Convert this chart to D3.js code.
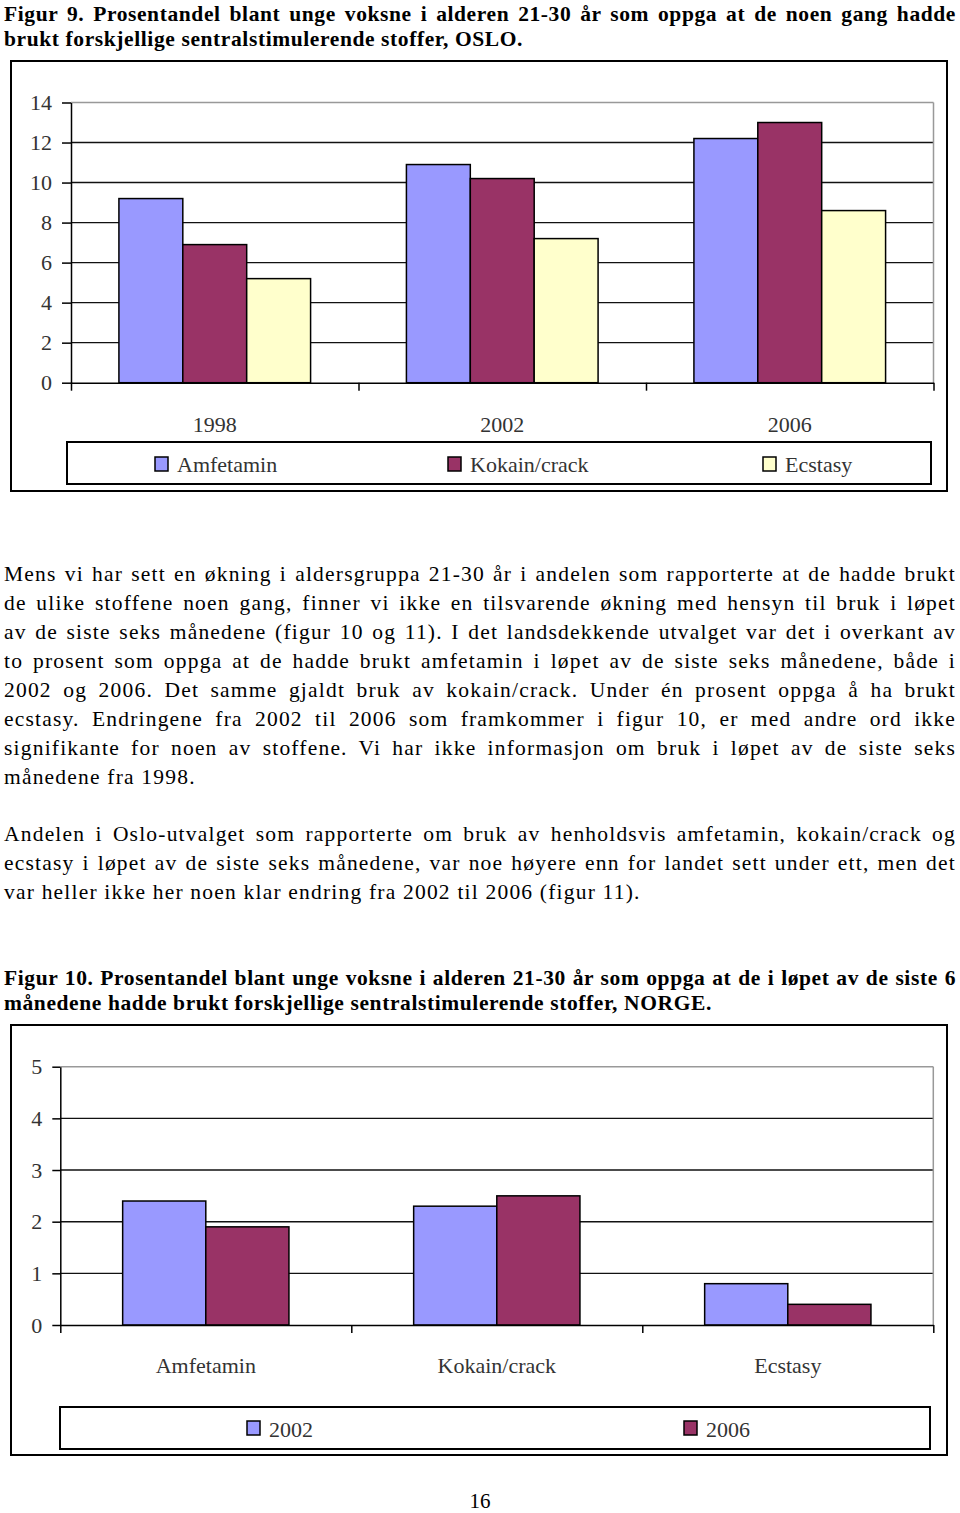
<!DOCTYPE html>
<html><head><meta charset="utf-8">
<script src="https://cdn.jsdelivr.net/npm/d3@7"></script>
<style>body{margin:0;background:#fff} svg{display:block}</style>
</head><body>
<svg id="page" width="960" height="1513"></svg>
<script>
// ---------- DATA ----------
// Figur 9 (OSLO)
const years1 = ["1998", "2002", "2006"];
const series1 = ["Amfetamin", "Kokain/crack", "Ecstasy"];
const amfetamin1 = [9.2, 10.9, 12.2];
const kokain1 = [6.9, 10.2, 13.0];
const ecstasy1 = [5.2, 7.2, 8.6];
const yTicks1 = [0, 2, 4, 6, 8, 10, 12, 14];

// Figur 10 (NORGE)
const drugs2 = ["Amfetamin", "Kokain/crack", "Ecstasy"];
const series2 = ["2002", "2006"];
const val2002 = [2.4, 2.3, 0.8];
const val2006 = [1.9, 2.5, 0.4];
const yTicks2 = [0, 1, 2, 3, 4, 5];

// Text
const title1 = ["Figur 9. Prosentandel blant unge voksne i alderen 21-30 år som oppga at de noen gang hadde",
  "brukt forskjellige sentralstimulerende stoffer, OSLO."];
const para1 = ["Mens vi har sett en økning i aldersgruppa 21-30 år i andelen som rapporterte at de hadde brukt",
  "de ulike stoffene noen gang, finner vi ikke en tilsvarende økning med hensyn til bruk i løpet",
  "av de siste seks månedene (figur 10 og 11). I det landsdekkende utvalget var det i overkant av",
  "to prosent som oppga at de hadde brukt amfetamin i løpet av de siste seks månedene, både i",
  "2002 og 2006. Det samme gjaldt bruk av kokain/crack. Under én prosent oppga å ha brukt",
  "ecstasy. Endringene fra 2002 til 2006 som framkommer i figur 10, er med andre ord ikke",
  "signifikante for noen av stoffene. Vi har ikke informasjon om bruk i løpet av de siste seks",
  "månedene fra 1998."];
const para2 = ["Andelen i Oslo-utvalget som rapporterte om bruk av henholdsvis amfetamin, kokain/crack og",
  "ecstasy i løpet av de siste seks månedene, var noe høyere enn for landet sett under ett, men det",
  "var heller ikke her noen klar endring fra 2002 til 2006 (figur 11)."];
const title2 = ["Figur 10. Prosentandel blant unge voksne i alderen 21-30 år som oppga at de i løpet av de siste 6",
  "månedene hadde brukt forskjellige sentralstimulerende stoffer, NORGE."];
const pageNo = "16";

const colors1 = ["#9999FF", "#993366", "#FFFFCC"];
const colors2 = ["#9999FF", "#993366"];

// ---------- DRAW ----------
const svg = d3.select("#page");
const SERIF = "'Liberation Serif', 'Times New Roman', serif";

function textLines(lines, x, y0, lh, width, opts) {
  lines.forEach((ln, i) => {
    const t = svg.append("text")
      .attr("x", x).attr("y", y0 + i * lh)
      .attr("font-family", SERIF)
      .attr("font-size", opts.size)
      .attr("font-weight", opts.bold ? "bold" : "normal")
      .style("letter-spacing", opts.ls + "px")
      .attr("fill", "#000")
      .text(ln);
    const last = i === lines.length - 1;
    if (!last) {
      const w = t.node().getComputedTextLength();
      const spaces = (ln.match(/ /g) || []).length;
      if (spaces) t.style("word-spacing", ((width - w) / spaces) + "px");
    }
  });
}

textLines(title1, 4, 21, 25, 952, {size: 21.5, bold: true, ls: 0.6});
textLines(para1, 4, 581, 29, 952, {size: 21.5, ls: 1.2});
textLines(para2, 4, 841, 29, 952, {size: 21.5, ls: 1.2});
textLines(title2, 4, 985, 25, 952, {size: 21.5, bold: true, ls: 0.6});
svg.append("text").attr("x", 480).attr("y", 1508).attr("text-anchor", "middle")
  .attr("font-family", SERIF).attr("font-size", 21).text(pageNo);

function drawChart(cfg) {
  const g = svg.append("g");
  g.append("rect").attr("x", cfg.frame.x).attr("y", cfg.frame.y)
    .attr("width", cfg.frame.w).attr("height", cfg.frame.h)
    .attr("fill", "#fff").attr("stroke", "#000").attr("stroke-width", 2);

  const p = cfg.plot;
  const y = d3.scaleLinear().domain([0, d3.max(cfg.ticks)]).range([p.b, p.t]);
  const x0 = d3.scaleBand().domain(cfg.categories).range([p.l, p.r]).padding(0);
  const x1 = d3.scaleBand().domain(cfg.seriesNames).range([0, x0.bandwidth()])
    .paddingInner(0).paddingOuter(0.75);

  const maxT = d3.max(cfg.ticks);
  g.selectAll(".grid").data(cfg.ticks.filter(t => t > 0)).join("line")
    .attr("x1", p.l).attr("x2", p.r)
    .attr("y1", d => y(d)).attr("y2", d => y(d))
    .attr("stroke", d => d === maxT ? "#999" : "#111")
    .attr("stroke-width", d => d === maxT ? 1.5 : 1.4);
  g.append("line").attr("x1", p.r).attr("x2", p.r).attr("y1", y(maxT)).attr("y2", y(0))
    .attr("stroke", "#999").attr("stroke-width", 1.5);

  cfg.seriesNames.forEach((s, si) => {
    g.selectAll(null).data(cfg.values[si]).join("rect")
      .attr("x", (d, i) => x0(cfg.categories[i]) + x1(s))
      .attr("y", d => y(d))
      .attr("width", x1.bandwidth())
      .attr("height", d => y(0) - y(d))
      .attr("fill", cfg.colors[si])
      .attr("stroke", "#000").attr("stroke-width", 1.5);
  });

  const ya = g.append("g").attr("transform", `translate(${p.l},0)`)
    .call(d3.axisLeft(y).tickValues(cfg.ticks).tickSize(cfg.tickSize).tickSizeOuter(0).tickPadding(10).tickFormat(d3.format("d")));
  ya.select(".domain").attr("stroke", "#000").attr("stroke-width", 1.5);
  ya.selectAll(".tick line").attr("stroke", "#000").attr("stroke-width", 1.5);
  ya.selectAll(".tick text").attr("font-family", SERIF).attr("font-size", 22).attr("fill", "#333");

  const xb = d3.scaleLinear().domain([0, cfg.categories.length]).range([p.l, p.r]);
  const xa = g.append("g").attr("transform", `translate(0,${p.b})`)
    .call(d3.axisBottom(xb).tickValues(d3.range(cfg.categories.length + 1)).tickSize(8).tickSizeOuter(0).tickFormat(""));
  xa.select(".domain").attr("stroke", "#000").attr("stroke-width", 1.5);
  xa.selectAll(".tick line").attr("stroke", "#000").attr("stroke-width", 1.5);

  g.selectAll(".cat").data(cfg.categories).join("text")
    .attr("x", d => x0(d) + x0.bandwidth() / 2).attr("y", cfg.catBaseline)
    .attr("text-anchor", "middle").attr("font-family", SERIF).attr("font-size", 22).attr("fill", "#333")
    .text(d => d);

  const L = cfg.legend;
  g.append("rect").attr("x", L.x).attr("y", L.y).attr("width", L.w).attr("height", L.h)
    .attr("fill", "#fff").attr("stroke", "#000").attr("stroke-width", 2);
  cfg.seriesNames.forEach((s, si) => {
    g.append("rect").attr("x", L.items[si]).attr("y", L.swY).attr("width", 13).attr("height", 14)
      .attr("fill", cfg.colors[si]).attr("stroke", "#000").attr("stroke-width", 1.5);
    g.append("text").attr("x", L.items[si] + 22).attr("y", L.textY)
      .attr("font-family", SERIF).attr("font-size", 22).attr("fill", "#333").text(s);
  });
}

drawChart({
  frame: {x: 11, y: 61, w: 936, h: 430},
  plot: {l: 71, r: 933.5, t: 102.5, b: 382.7},
  categories: years1, seriesNames: series1,
  values: [amfetamin1, kokain1, ecstasy1], colors: colors1,
  ticks: yTicks1, tickSize: 9, catBaseline: 432,
  legend: {x: 67, y: 442, w: 864, h: 42, items: [155, 448, 763], swY: 457, textY: 472}
});

drawChart({
  frame: {x: 11, y: 1025, w: 936, h: 430},
  plot: {l: 60.3, r: 933.3, t: 1066.7, b: 1325},
  categories: drugs2, seriesNames: series2,
  values: [val2002, val2006], colors: colors2,
  ticks: yTicks2, tickSize: 8, catBaseline: 1373,
  legend: {x: 60, y: 1407, w: 870, h: 42, items: [247, 684], swY: 1421, textY: 1437}
});
</script>
</body></html>
